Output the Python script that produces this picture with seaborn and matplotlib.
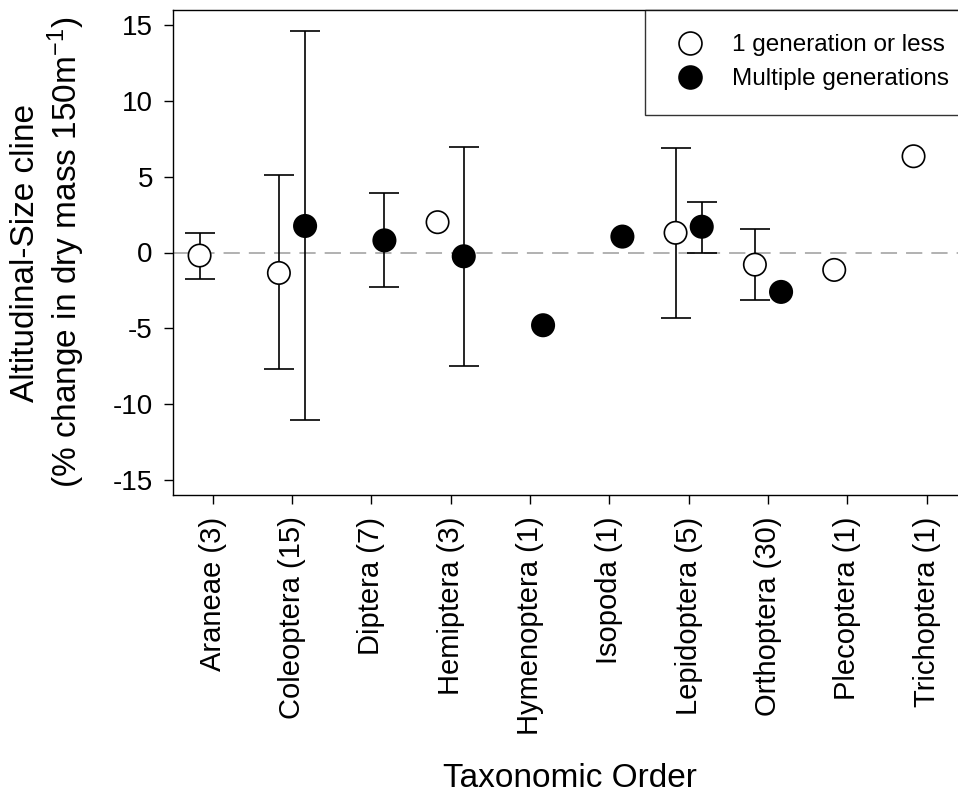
import numpy as np
import pandas as pd
import matplotlib
matplotlib.use("Agg")
import matplotlib.pyplot as plt
from matplotlib.lines import Line2D
import seaborn as sns

# Taxonomic orders (number of studies)
orders = ["Araneae (3)", "Coleoptera (15)", "Diptera (7)", "Hemiptera (3)",
          "Hymenoptera (1)", "Isopoda (1)", "Lepidoptera (5)", "Orthoptera (30)",
          "Plecoptera (1)", "Trichoptera (1)"]

groups = ["1 generation or less", "Multiple generations"]

# Altitudinal-size cline, one generation or less (mean, lower, upper)
single_mean = [-0.2, -1.35, np.nan, 2.0, np.nan, np.nan, 1.3, -0.8, -1.15, 6.35]
single_low = [-1.75, -7.7, np.nan, np.nan, np.nan, np.nan, -4.3, -3.15, np.nan, np.nan]
single_high = [1.3, 5.1, np.nan, np.nan, np.nan, np.nan, 6.9, 1.55, np.nan, np.nan]

# Altitudinal-size cline, multiple generations (mean, lower, upper)
multi_mean = [np.nan, 1.75, 0.8, -0.25, -4.8, 1.05, 1.7, -2.6, np.nan, np.nan]
multi_low = [np.nan, -11.05, -2.25, -7.5, np.nan, np.nan, 0.0, np.nan, np.nan, np.nan]
multi_high = [np.nan, 14.6, 3.9, 6.95, np.nan, np.nan, 3.35, np.nan, np.nan, np.nan]

# Build a tidy table; each group is shifted a little either side of its order
offsets = {groups[0]: -0.165, groups[1]: 0.165}
rows = []
for g, means, lows, highs in [(groups[0], single_mean, single_low, single_high),
                              (groups[1], multi_mean, multi_low, multi_high)]:
    for i, (m, lo, hi) in enumerate(zip(means, lows, highs)):
        if np.isnan(m):
            continue
        rows.append({"order": orders[i], "group": g, "pos": i + offsets[g],
                     "mean": m, "low": lo, "high": hi})
df = pd.DataFrame(rows)

sns.set_theme(style="ticks")
plt.rcParams["font.family"] = ["Liberation Sans", "DejaVu Sans"]
plt.rcParams["mathtext.fontset"] = "custom"
plt.rcParams["mathtext.rm"] = "Liberation Sans"
plt.rcParams["mathtext.default"] = "regular"
plt.rcParams["text.color"] = "black"
plt.rcParams["axes.labelcolor"] = "black"
plt.rcParams["xtick.color"] = "black"
plt.rcParams["ytick.color"] = "black"

W, H = 958, 798
fig = plt.figure(figsize=(W / 100, H / 100), dpi=100)
left_px, right_px, top_px, bottom_px = 173, 966.3, 10, 495
ax = fig.add_axes([left_px / W, 1 - bottom_px / H,
                   (right_px - left_px) / W, (bottom_px - top_px) / H])

# Zero reference line
ax.axhline(0, color="#ababab", lw=1.3, dashes=(9, 5), zorder=1)

# Error bars (only where a range is available)
eb = df.dropna(subset=["low", "high"])
ax.errorbar(eb["pos"], eb["mean"],
            yerr=[eb["mean"] - eb["low"], eb["high"] - eb["mean"]],
            fmt="none", ecolor="black", elinewidth=1.2, capsize=10.5,
            capthick=1.2, zorder=2)

palette = {groups[0]: "white", groups[1]: "black"}
sns.scatterplot(data=df, x="pos", y="mean", hue="group", palette=palette,
                edgecolor="black", linewidth=1.2, s=260, legend=False,
                ax=ax, zorder=3)

ax.set_xlim(-0.5, 9.5)
ax.set_ylim(-16, 16)
ax.set_xticks(range(len(orders)))
ax.set_xticklabels(orders, rotation=90, fontsize=21)
ax.set_yticks([-15, -10, -5, 0, 5, 10, 15])
ax.set_yticklabels(["-15", "-10", "-5", "0", "5", "10", "15"], fontsize=20)
ax.tick_params(axis="x", direction="out", length=6.5, width=1.0, pad=9, colors="black")
ax.tick_params(axis="y", direction="out", length=6.5, width=1.0, pad=8, colors="black")

for side in ["left", "bottom", "top"]:
    ax.spines[side].set_visible(True)
    ax.spines[side].set_color("black")
    ax.spines[side].set_linewidth(1.0)
ax.spines["right"].set_visible(False)

ax.set_xlabel("Taxonomic Order", fontsize=24)
ax.set_ylabel("Altitudinal-Size cline\n(% change in dry mass 150m$^{-1}$)",
              fontsize=24, linespacing=1.15)
ax.xaxis.set_label_coords(0.5, -0.553)
ax.yaxis.set_label_coords(-0.108, 0.5)

handles = [Line2D([], [], linestyle="none", marker="o", markersize=16.5,
                  markerfacecolor=palette[g], markeredgecolor="black",
                  markeredgewidth=1.2) for g in groups]
leg = fig.legend(handles, groups, loc="upper left",
                 bbox_to_anchor=(645 / W, 1 - top_px / H, 0.4, 0),
                 mode="expand", borderaxespad=0, fontsize=17.5,
                 frameon=True, fancybox=False, borderpad=1.0,
                 handlelength=1.7, handletextpad=0.88, labelspacing=0.5)
leg.get_frame().set_edgecolor("black")
leg.get_frame().set_linewidth(1.0)
leg.get_frame().set_facecolor("white")
for t in leg.get_texts():
    t.set_color("black")

fig.savefig("out.png", dpi=100, facecolor="white")
